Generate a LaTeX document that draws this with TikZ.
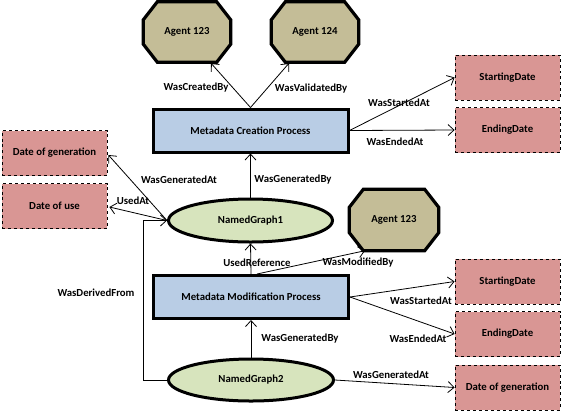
\documentclass[tikz,border=0pt]{standalone}
\usepackage{fontspec}
\setmainfont{Carlito}
\usetikzlibrary{arrows.meta,calc,shapes.geometric}
\definecolor{tan}{HTML}{C4BD97}
\definecolor{procblue}{HTML}{B9CDE5}
\definecolor{datepink}{HTML}{D99694}
\definecolor{graphgreen}{HTML}{D7E4BD}
\pgfdeclarelayer{bg}
\pgfsetlayers{bg,main}
\tikzset{
  every node/.style={font=\fontsize{10.8}{12}\selectfont\bfseries, inner sep=0pt},
  agent/.style={rectangle, minimum width=87bp, minimum height=60bp},
  octoline/.style={fill=tan, draw=black, line width=3.2bp, line join=miter},
  proc/.style={rectangle, draw=black, fill=procblue, line width=3bp, minimum width=195bp, minimum height=43bp},
  datebox/.style={rectangle, draw=black, fill=datepink, dashed, line width=0.8bp, minimum width=105bp, minimum height=45bp},
  graph/.style={ellipse, draw=black, fill=graphgreen, line width=3bp, minimum width=164bp, minimum height=43bp},
  arr/.style={line width=0.8bp, -{Straight Barb[length=6bp,width=11bp]}},
  lab/.style={}
}
\newcommand\drawocto[1]{%
  \begin{pgfonlayer}{bg}
  \path[octoline] ($(#1.north west)+(14,0)$) -- ($(#1.north east)+(-14,0)$)
    -- ($(#1.north east)+(0,18)$) -- ($(#1.south east)+(0,-18)$)
    -- ($(#1.south east)+(-14,0)$) -- ($(#1.south west)+(14,0)$)
    -- ($(#1.south west)+(0,-18)$) -- ($(#1.north west)+(0,18)$) -- cycle;
  \end{pgfonlayer}}
\begin{document}
\begin{tikzpicture}[x=1bp,y=-1bp]
\useasboundingbox (0,0) rectangle (564,412);
% agents
\node[agent] (a1) at (187,32) {Agent 123};
\node[agent] (a2) at (315,32) {Agent 124};
\node[agent, minimum width=89bp, minimum height=61bp] (a3) at (394,220) {Agent 123};
\drawocto{a1}\drawocto{a2}\drawocto{a3}
% processes
\node[proc] (cp) at (250.5,130.5) {Metadata Creation Process};
\node[proc] (mp) at (251,297) {Metadata Modification Process};
% dates
\node[datebox] (sd1) at (507.5,77.5) {StartingDate};
\node[datebox] (ed1) at (507.5,130) {EndingDate};
\node[datebox] (dg1) at (54.5,153) {Date of generation};
\node[datebox] (du1) at (54.5,206) {Date of use};
\node[datebox] (sd2) at (507.5,281.5) {StartingDate};
\node[datebox] (ed2) at (507.5,334) {EndingDate};
\node[datebox] (dg2) at (507.5,387.5) {Date of generation};
% graphs
\node[graph] (ng1) at (250.5,220.5) {NamedGraph1};
\node[graph, minimum width=165bp, minimum height=42bp] (ng2) at (251,380) {NamedGraph2};
% connectors
\draw[arr] (cp.north) -- ($(a1.south)+(24,1)$);
\draw[arr] (cp.north) -- ($(a2.south)+(-26,1)$);
\draw[arr] (cp.east) -- (sd1.west);
\draw[arr] (cp.east) -- (ed1.west);
\draw[arr] (ng1.north) -- (cp.south);
\draw[arr] (ng1.west) -- ($(dg1.east)+(1,2)$);
\draw[arr] (ng1.west) -- ($(du1.east)+(2,1)$);
\draw[arr] (mp.north) -- (ng1.south);
\draw[arr] ($(mp.north)+(6,0)$) -- ($(a3.south)+(-29,0)$);
\draw[arr] (mp.east) -- (sd2.west);
\draw[arr] (mp.east) -- (ed2.west);
\draw[arr] (ng2.north) -- (mp.south);
\draw[arr] (ng2.east) -- (dg2.west);
\draw[arr] (ng2.west) -- ([xshift=-24bp]ng2.west) |- (ng1.west);
% labels
\node[lab] (l1) at (196,88) {WasCreatedBy};
\node[lab] (l2) at (311,89) {WasValidatedBy};
\node[lab] (l3) at (399,103) {WasStartedAt};
\node[lab] (l4) at (395,142) {WasEndedAt};
\node[lab] (l5) at (179,180) {WasGeneratedAt};
\node[lab] (l6) at (293,180) {WasGeneratedBy};
\node[lab] (l7) at (133,201) {UsedAt};
\node[lab] (l8) at (257,263) {UsedReference};
\node[lab] (l9) at (358,263) {WasModifiedBy};
\node[lab] (l10) at (421,301) {WasStartedAt};
\node[lab] (l11) at (418,339) {WasEndedAt};
\node[lab] (l12) at (300,339) {WasGeneratedBy};
\node[lab] (l13) at (96,293) {WasDerivedFrom};
\node[lab] (l14) at (391,375) {WasGeneratedAt};
\end{tikzpicture}
\end{document}
